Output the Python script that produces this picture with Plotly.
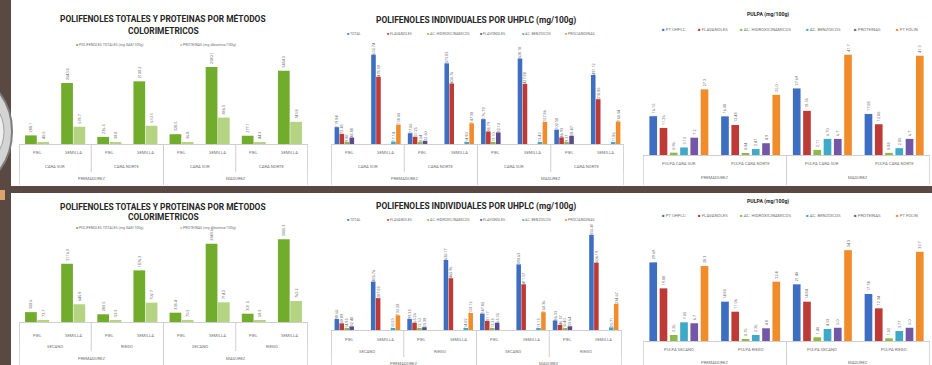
import plotly.graph_objects as go

W, H = 932, 365

# ---------------- categories ----------------
TISSUE = ["PIEL", "SEMILLA"]
MATURITY = ["PREMADUREZ", "MADUREZ"]
FACES = ["CARA SUR", "CARA NORTE"]
IRRIGATION = ["SECANO", "RIEGO"]
PULP_FACES = ["PULPA CARA SUR", "PULPA CARA NORTE"]
PULP_IRRIGATION = ["PULPA SECANO", "PULPA RIEGO"]

# ---------------- colorimetric totals (mg/100g) ----------------
COLORI_SERIES = ["POLIFENOLES TOTALES (mg GAE/100g)", "PROTEINAS (mg albumina/100g)"]
pt_faces = [288.1, 2043.8, 236.5, 2100.2, 328.5, 2580.1, 277.1, 2454.3]
prot_faces = [40.5, 578.7, 38.8, 610.3, 36.8, 886.3, 44.3, 743.8]
pt_irrig = [358.6, 2116.3, 280.5, 1876.3, 338.4, 2843.6, 301.5, 3005.3]
prot_irrig = [73.7, 645.8, 53.3, 702.7, 75.2, 714.2, 58.3, 762.2]

# ---------------- UHPLC individual polyphenols (mg/100g) ----------------
UHPLC_SERIES = ["TOTAL", "FLAVANOLES", "AC. HIDROXICINAMICOS", "FLAVONOLES",
                "AC. BENZOICOS", "PROCIANIDINAS"]
uh_total_faces = [119.84, 635.74, 77.00, 573.83, 176.79, 608.18, 102.38, 491.12]
uh_flavan_faces = [72.43, 478.59, 51.25, 430.76, 88.79, 427.88, 46.93, 318.85]
uh_hidrox_faces = [9.80, None, 8.04, None, 13.10, None, 9.37, None]
uh_flavon_faces = [45.88, None, 22.60, None, 82.10, None, 58.47, None]
uh_benzo_faces = [None, 17.14, None, 14.90, None, 13.43, None, 11.86]
uh_procian_faces = [None, 138.00, None, 147.38, None, 157.86, None, 160.54]

uh_total_irrig = [98.60, 435.76, 99.35, 630.17, 147.85, 590.63, 86.33, 855.41]
uh_flavan_irrig = [59.89, 287.05, 65.26, 465.96, 81.17, 411.57, 46.57, 606.19]
uh_hidrox_irrig = [14.95, None, 12.10, None, 13.25, None, 10.40, None]
uh_flavon_irrig = [32.48, None, 25.38, None, 65.35, None, 33.64, None]
uh_benzo_irrig = [None, 10.53, None, 14.02, None, 13.15, None, 23.71]
uh_procian_irrig = [None, 132.28, None, 153.12, None, 160.36, None, 234.67]

# ---------------- pulp (mg/100g) ----------------
PULP_SERIES = ["PT UHPLC", "FLAVANOLES", "AC. HIDROXICINAMICOS", "AC. BENZOICOS",
               "PROTEINAS", "PT FOLIN"]
pulp_uhplc_faces = [16.15, 16.08, 27.69, 17.08]
pulp_flavan_faces = [11.26, 12.48, 18.35, 12.80]
pulp_hidrox_faces = [0.96, 0.84, 2.11, 0.88]
pulp_benzo_faces = [3.13, 2.47, 6.70, 2.85]
pulp_prot_faces = [7.2, 4.9, 6.7, 6.7]
pulp_folin_faces = [27.3, 25.0, 41.7, 41.3]

pulp_uhplc_irrig = [29.69, 14.85, 21.40, 17.74]
pulp_flavan_irrig = [19.88, 11.06, 14.84, 12.34]
pulp_hidrox_irrig = [2.26, 0.75, 1.40, 1.02]
pulp_benzo_irrig = [7.05, 2.26, 4.53, 3.77]
pulp_prot_irrig = [6.7, 4.8, 5.0, 5.0]
pulp_folin_irrig = [28.3, 22.4, 34.3, 33.7]

GREEN_DARK, GREEN_LIGHT = "#72AC2C", "#B5D483"
BLUE, RED, GREEN, PURPLE, TEAL, ORANGE = ("#3D6EC2", "#BE3A36", "#8DB84A",
                                          "#7356A6", "#3FA9C8", "#F08C2A")
UHPLC_COLORS = [BLUE, RED, GREEN, "#5B4A8E", TEAL, ORANGE]
PULP_COLORS = [BLUE, RED, GREEN, TEAL, PURPLE, ORANGE]

FONT = "Roboto"
LABEL_GREY = "#707070"
LINE_GREY = "#cfcfcf"


def fx(px):
    return px / W


def fy(py):
    return 1 - py / H


fig = go.Figure()
shapes, annotations = [], []
layout_axes = {}


def add_chart(idx, x0, x1, base, top, ymax, series, colors, fmt, slot, bar_w,
              levels, row_y, line_bottom, titles, title_cx, title_size,
              legend_items, legend_y, legend_size):
    xa = "x" if idx == 1 else f"x{idx}"
    ya = "y" if idx == 1 else f"y{idx}"
    n_cat = 1
    for names in levels:
        n_cat *= len(names)
    inner = levels[0]
    cats = [f"{k}:{inner[k % len(inner)]}" for k in range(n_cat)]
    layout_axes["xaxis" if idx == 1 else f"xaxis{idx}"] = dict(
        domain=[fx(x0), fx(x1)], anchor=ya, type="category",
        range=[-0.5, n_cat - 0.5], showticklabels=False, ticks="",
        showline=True, linecolor=LINE_GREY, linewidth=1, showgrid=False,
        zeroline=False, fixedrange=True)
    layout_axes["yaxis" if idx == 1 else f"yaxis{idx}"] = dict(
        domain=[fy(base), fy(top)], anchor=xa, range=[0, ymax], visible=False,
        showgrid=False, zeroline=False, fixedrange=True)

    n_s = len(series)
    for i, (name, vals) in enumerate(series):
        txt = ["" if v is None else fmt[i].format(v) for v in vals]
        fig.add_trace(go.Bar(
            x=cats, y=vals, name=name, xaxis=xa, yaxis=ya,
            width=bar_w, offset=-n_s * slot / 2 + i * slot + (slot - bar_w) / 2,
            marker=dict(color=colors[i], line=dict(width=0)),
            text=txt, textposition="outside", textangle=-90,
            textfont=dict(size=3.8, color=LABEL_GREY, family=FONT),
            constraintext="none", cliponaxis=False, showlegend=False))

    # category label rows
    span = 1
    for lvl, names in enumerate(levels):
        for g in range(n_cat // span):
            centre = g * span + (span - 1) / 2
            annotations.append(dict(
                x=centre, y=fy(row_y[lvl]), xref=xa, yref="paper",
                text=names[g % len(names)], showarrow=False,
                font=dict(size=4.2, color=LABEL_GREY, family=FONT),
                xanchor="center", yanchor="middle"))
        span *= len(names)
    # separators between groups of the outer levels
    span = len(levels[0])
    for lvl in range(1, len(levels) + 1):
        for b in range(0, n_cat + 1, span):
            shapes.append(dict(type="line", xref=xa, yref="paper",
                               x0=b - 0.5, x1=b - 0.5, y0=fy(base),
                               y1=fy(line_bottom[lvl - 1]),
                               line=dict(color=LINE_GREY, width=1)))
        if lvl < len(levels):
            span *= len(levels[lvl])

    # title
    for text, ty in titles:
        annotations.append(dict(x=fx(title_cx), y=fy(ty), xref="paper", yref="paper",
                                text=f"<b>{text}</b>", showarrow=False,
                                xanchor="center", yanchor="middle",
                                font=dict(size=title_size, color="#262626", family=FONT)))
    # legend
    for (name, col, px) in legend_items:
        annotations.append(dict(
            x=fx(px), y=fy(legend_y), xref="paper", yref="paper",
            text=f"<span style='color:{col}'>■</span> {name}", showarrow=False,
            xanchor="left", yanchor="middle",
            font=dict(size=legend_size, color=LABEL_GREY, family=FONT)))


COLORI_TITLE = "POLIFENOLES TOTALES Y PROTEINAS POR MÉTODOS"
UHPLC_TITLE = "POLIFENOLES INDIVIDUALES POR UHPLC (mg/100g)"
PULP_TITLE = "PULPA (mg/100g)"
UHPLC_LEGEND_X = [345, 385, 425, 478, 520, 563]
PULP_LEGEND_X = [660, 696, 738, 804, 852, 894]

# --- colorimetric, faces
add_chart(1, 19, 308, 144, 50, 3150,
          [(COLORI_SERIES[0], pt_faces), (COLORI_SERIES[1], prot_faces)],
          [GREEN_DARK, GREEN_LIGHT], ["{:.1f}", "{:.1f}"], 0.34, 0.325,
          [TISSUE, FACES, MATURITY], [153, 166, 178], [172, 185, 185],
          [(COLORI_TITLE, 18), ("COLORIMETRICOS", 31)], 163, 8.4,
          [(COLORI_SERIES[0], GREEN_DARK, 74), (COLORI_SERIES[1], GREEN_LIGHT, 178)],
          45, 3.6)

# --- UHPLC, faces
add_chart(2, 331, 624, 144, 40, 740,
          list(zip(UHPLC_SERIES, [uh_total_faces, uh_flavan_faces, uh_hidrox_faces,
                                   uh_flavon_faces, uh_benzo_faces, uh_procian_faces])),
          UHPLC_COLORS, ["{:.2f}"] * 6, 0.136, 0.125,
          [TISSUE, FACES, MATURITY], [153, 166, 178], [172, 185, 185],
          [(UHPLC_TITLE, 20)], 476, 8.4,
          list(zip(UHPLC_SERIES, UHPLC_COLORS, UHPLC_LEGEND_X)), 34, 3.6)

# --- pulp, faces
add_chart(3, 643, 930, 155, 42, 47,
          list(zip(PULP_SERIES, [pulp_uhplc_faces, pulp_flavan_faces, pulp_hidrox_faces,
                                  pulp_benzo_faces, pulp_prot_faces, pulp_folin_faces])),
          PULP_COLORS, ["{:.2f}"] * 4 + ["{:.1f}"] * 2, 0.143, 0.107,
          [PULP_FACES, MATURITY], [164, 177], [185, 185],
          [(PULP_TITLE, 15)], 768, 5.2,
          list(zip(PULP_SERIES, PULP_COLORS, PULP_LEGEND_X)), 29, 4.3)

# --- colorimetric, irrigation
add_chart(4, 19, 308, 322, 232, 3270,
          [(COLORI_SERIES[0], pt_irrig), (COLORI_SERIES[1], prot_irrig)],
          [GREEN_DARK, GREEN_LIGHT], ["{:.1f}", "{:.1f}"], 0.34, 0.325,
          [TISSUE, IRRIGATION, MATURITY], [335, 346, 358], [351, 365, 365],
          [(COLORI_TITLE, 206), ("COLORIMETRICOS", 217)], 163, 8.4,
          [(COLORI_SERIES[0], GREEN_DARK, 74), (COLORI_SERIES[1], GREEN_LIGHT, 178)],
          228, 3.6)

# --- UHPLC, irrigation
add_chart(5, 331, 622, 330, 225, 945,
          list(zip(UHPLC_SERIES, [uh_total_irrig, uh_flavan_irrig, uh_hidrox_irrig,
                                   uh_flavon_irrig, uh_benzo_irrig, uh_procian_irrig])),
          UHPLC_COLORS, ["{:.2f}"] * 6, 0.136, 0.125,
          [TISSUE, IRRIGATION, MATURITY], [339, 351, 363], [357, 365, 365],
          [(UHPLC_TITLE, 206)], 476, 8.4,
          list(zip(UHPLC_SERIES, UHPLC_COLORS, UHPLC_LEGEND_X)), 220, 3.6)

# --- pulp, irrigation
add_chart(6, 643, 930, 341, 225, 43.8,
          list(zip(PULP_SERIES, [pulp_uhplc_irrig, pulp_flavan_irrig, pulp_hidrox_irrig,
                                  pulp_benzo_irrig, pulp_prot_irrig, pulp_folin_irrig])),
          PULP_COLORS, ["{:.2f}"] * 4 + ["{:.1f}"] * 2, 0.143, 0.107,
          [PULP_IRRIGATION, MATURITY], [349, 362], [365, 365],
          [(PULP_TITLE, 202)], 768, 5.2,
          list(zip(PULP_SERIES, PULP_COLORS, PULP_LEGEND_X)), 215, 4.3)

# poster frame: left strip, separating band and the partial round emblem
BROWN = "#5A4842"
frame = [
    dict(type="rect", xref="paper", yref="paper", x0=0, x1=fx(11), y0=0, y1=1,
         fillcolor=BROWN, line=dict(width=0), layer="above"),
    dict(type="circle", xref="paper", yref="paper", x0=fx(-70), x1=fx(12),
         y0=fy(185), y1=fy(78), fillcolor="#d4d4d4", line=dict(color="#7d7d7d", width=2),
         layer="above"),
    dict(type="circle", xref="paper", yref="paper", x0=fx(-50), x1=fx(4),
         y0=fy(165), y1=fy(98), fillcolor="#eeeeee", line=dict(color="#a0a0a0", width=1),
         layer="above"),
    dict(type="rect", xref="paper", yref="paper", x0=0, x1=1, y0=fy(193), y1=fy(186),
         fillcolor=BROWN, line=dict(width=0), layer="above"),
    dict(type="rect", xref="paper", yref="paper", x0=0, x1=fx(5), y0=fy(200), y1=fy(190),
         fillcolor="#d9a46a", line=dict(width=0), layer="above"),
]

fig.update_layout(
    width=W, height=H, margin=dict(l=0, r=0, t=0, b=0),
    paper_bgcolor="white", plot_bgcolor="white", barmode="overlay",
    showlegend=False, shapes=shapes + frame, annotations=annotations,
    font=dict(family=FONT), **layout_axes)

fig.write_html("out.html", config={"displayModeBar": False})
